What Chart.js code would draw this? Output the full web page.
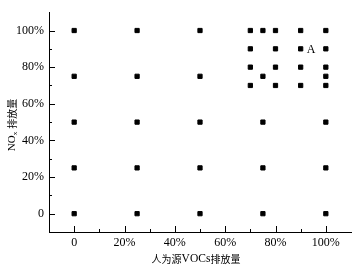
<!DOCTYPE html>
<html>
<head>
<meta charset="utf-8">
<script src="https://cdn.jsdelivr.net/npm/chart.js@4/dist/chart.umd.min.js"></script>
<style>
html,body{margin:0;padding:0;background:#fff;}
#wrap{width:359px;height:275px;position:relative;}
</style>
</head>
<body>
<div id="wrap"><canvas id="c" width="359" height="275"></canvas></div>
<script>
// Scenario points: anthropogenic VOCs emission (%) vs NOx emission (%)
const vocPct = [0,0,0,0,0, 25,25,25,25,25, 50,50,50,50,50, 70,70,70,70, 75,75,75,75,75, 80,80,80,80, 90,90,90,90, 100,100,100,100,100,100,100,100];
const noxPct = [0,25,50,75,100, 0,25,50,75,100, 0,25,50,75,100, 70,80,90,100, 0,25,50,75,100, 70,80,90,100, 70,80,90,100, 0,25,50,70,75,80,90,100];
const tickValues = [0,20,40,60,80,100];
const xTitleParts = ['人为源', 'VOCs', '排放量'];
const yTitleParts = ['NO', 'x', '排放量'];
const markLabel = {x: 90, y: 90, text: 'A'};

const SERIF = '"Liberation Serif","DejaVu Serif",serif';
const CJK = '"Noto Sans CJK SC",sans-serif';

const points = vocPct.map((v,i)=>({x:v, y:noxPct[i]}));

function drawSegments(ctx, segs, cx, cy){
  let total = 0;
  segs.forEach(s=>{ ctx.font = s.font; s.w = ctx.measureText(s.text).width + (s.gap||0); total += s.w; });
  let x = cx - total/2;
  ctx.textAlign = 'left';
  ctx.textBaseline = 'middle';
  segs.forEach(s=>{ ctx.font = s.font; ctx.fillText(s.text, x, cy + (s.dy||0)); x += s.w; });
}

const decor = {
  id:'decor',
  afterDraw(chart){
    const ctx = chart.ctx, xs = chart.scales.x, ys = chart.scales.y;
    const area = chart.chartArea;
    ctx.save();
    ctx.strokeStyle = '#000';
    ctx.lineWidth = 1;
    // inward ticks
    for(let v=0; v<=100; v+=10){
      const major = v%20===0;
      const len = major ? 6 : 3;
      const px = Math.round(xs.getPixelForValue(v))+0.5;
      ctx.beginPath(); ctx.moveTo(px, area.bottom); ctx.lineTo(px, area.bottom-len); ctx.stroke();
      const py = Math.round(ys.getPixelForValue(v))+0.5;
      ctx.beginPath(); ctx.moveTo(area.left, py); ctx.lineTo(area.left+len, py); ctx.stroke();
    }
    // label A
    ctx.fillStyle = '#000';
    ctx.font = '12px ' + SERIF;
    ctx.textAlign = 'left'; ctx.textBaseline = 'middle';
    ctx.fillText(markLabel.text, xs.getPixelForValue(markLabel.x)+6, ys.getPixelForValue(markLabel.y)+1);
    // x title
    drawSegments(ctx, [
      {text:xTitleParts[0], font:'10px '+CJK},
      {text:xTitleParts[1], font:'11.5px '+SERIF, dy:0},
      {text:xTitleParts[2], font:'10px '+CJK}
    ], 196, 259);
    // y title (rotated, with subscript)
    ctx.translate(12, 125);
    ctx.rotate(-Math.PI/2);
    drawSegments(ctx, [
      {text:yTitleParts[0], font:'11px '+SERIF},
      {text:yTitleParts[1], font:'7px '+SERIF, dy:3, gap:3},
      {text:yTitleParts[2], font:'10px '+CJK}
    ], 0, 0);
    ctx.restore();
  }
};

new Chart(document.getElementById('c'), {
  type:'scatter',
  data:{datasets:[{
    data: points,
    pointStyle:'rect',
    pointRadius:3,
    pointBorderWidth:1,
    backgroundColor:'#000',
    borderColor:'#000'
  }]},
  options:{
    responsive:false,
    animation:false,
    events:[],
    layout:{padding:{top:9,right:8,left:0,bottom:0}},
    plugins:{legend:{display:false},tooltip:{enabled:false}},
    scales:{
      x:{
        type:'linear', min:-10, max:110,
        grid:{display:false, drawTicks:false, tickLength:0},
        border:{display:true,color:'#000',width:1},
        afterBuildTicks(s){ s.ticks = tickValues.map(v=>({value:v})); },
        afterFit(s){ s.height = 43; },
        ticks:{color:'#000', padding:4, maxRotation:0, autoSkip:false,
          font:{family:SERIF,size:12},
          callback:(v)=> v===0 ? '0' : v+'%'}
      },
      y:{
        type:'linear', min:-10, max:110,
        grid:{display:false, drawTicks:false, tickLength:0},
        border:{display:true,color:'#000',width:1},
        afterBuildTicks(s){ s.ticks = tickValues.map(v=>({value:v})); },
        afterFit(s){ s.width = 49; },
        ticks:{color:'#000', padding:5, autoSkip:false,
          font:{family:SERIF,size:12},
          callback:(v)=> v===0 ? '0' : v+'%'}
      }
    }
  },
  plugins:[decor]
});
</script>
</body>
</html>
